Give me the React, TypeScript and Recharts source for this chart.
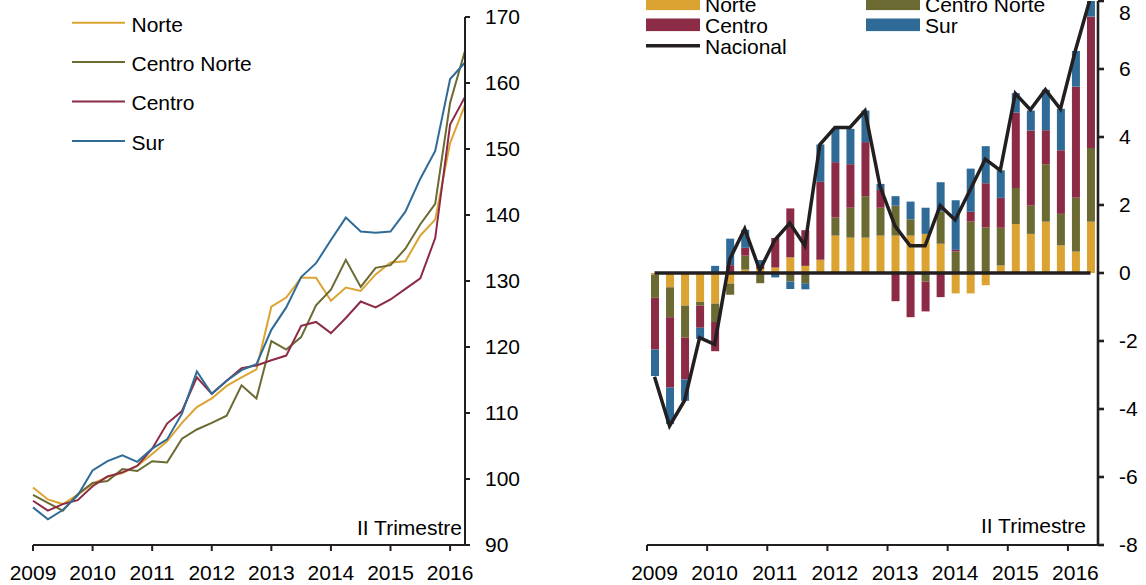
import React from 'react';
import {
  LineChart,
  Line,
  XAxis,
  YAxis,
  ComposedChart,
  Bar,
  Legend,
  ReferenceLine,
} from 'recharts';

// ---------- DATA ----------
const quarters = [
  '2009T1', '2009T2', '2009T3', '2009T4',
  '2010T1', '2010T2', '2010T3', '2010T4',
  '2011T1', '2011T2', '2011T3', '2011T4',
  '2012T1', '2012T2', '2012T3', '2012T4',
  '2013T1', '2013T2', '2013T3', '2013T4',
  '2014T1', '2014T2', '2014T3', '2014T4',
  '2015T1', '2015T2', '2015T3', '2015T4',
  '2016T1', '2016T2',
];

// Left panel: index by region
const indiceNorte = [
  98.7, 96.9, 96.2, 97.6, 99.3, 100.3, 100.9, 102.0, 103.8, 105.7,
  108.5, 110.9, 112.2, 114.1, 115.4, 116.6, 126.1, 127.5, 130.5, 130.5,
  127.0, 129.0, 128.5, 131.0, 132.8, 133.0, 136.9, 139.3, 150.9, 156.7,
];
const indiceCentroNorte = [
  97.6, 96.4, 95.2, 97.7, 99.4, 99.7, 101.5, 101.2, 102.7, 102.5,
  106.1, 107.5, 108.5, 109.6, 114.2, 112.2, 120.9, 119.6, 121.5, 126.3,
  128.7, 133.2, 129.1, 132.0, 132.4, 134.9, 138.6, 141.7, 157.0, 164.9,
];
const indiceCentro = [
  96.7, 95.2, 96.2, 96.8, 98.9, 100.4, 101.0, 102.0, 104.6, 108.4,
  110.3, 115.4, 112.9, 114.9, 116.8, 117.2, 118.0, 118.7, 123.2, 123.8,
  122.1, 124.4, 126.9, 126.0, 127.2, 128.8, 130.4, 136.5, 153.7, 157.9,
];
const indiceSur = [
  95.7, 93.9, 95.3, 97.5, 101.3, 102.7, 103.6, 102.6, 104.6, 106.0,
  109.9, 116.3, 112.9, 114.9, 116.5, 117.4, 122.6, 126.0, 130.6, 132.7,
  136.2, 139.6, 137.5, 137.3, 137.5, 140.5, 145.5, 149.7, 160.6, 163.1,
];

// Right panel: contributions to annual growth
const contribNorte = [
  -0.05, -0.42, -0.96, -0.85, -0.9, -0.31, 0.1, 0.12, 0.16, 0.46,
  0.21, 0.39, 1.1, 1.04, 1.04, 1.1, 1.1, 1.1, 1.15, 0.86,
  -0.6, -0.6, -0.36, 0.22, 1.44, 1.15, 1.51, 0.81, 0.63, 1.51,
];
const contribCentroNorte = [
  -0.68, -0.88, -0.94, -0.11, -0.54, -0.33, 0.41, -0.3, 0.0, -0.25,
  -0.3, 0.0, 0.53, 0.88, 1.22, 0.82, 0.88, 0.48, -0.25, 0.95,
  0.63, 1.51, 1.34, 1.11, 1.06, 0.83, 1.69, 0.93, 1.58, 2.17,
];
const contribCentro = [
  -1.52, -2.07, -1.23, -0.65, -0.86, 0.23, 0.23, 0.08, 0.87, 1.44,
  1.05, 2.29, 1.63, 1.28, 1.59, 0.52, -0.83, -1.3, -0.88, -0.71,
  0.05, 0.29, 1.3, 0.88, 2.22, 2.21, 1.0, 1.87, 3.27, 3.86,
];
const contribSur = [
  -0.78, -1.07, -0.63, -0.33, 0.21, 0.78, 0.53, 0.18, -0.13, -0.22,
  -0.18, 1.1, 0.98, 1.04, 0.93, 0.18, 0.28, 0.52, 0.77, 0.86,
  1.46, 1.27, 1.09, 0.81, 0.57, 0.59, 1.19, 1.22, 1.05, 0.5,
];
const nacional = [
  -3.05, -4.5, -3.75, -1.9, -2.1, 0.4, 1.3, 0.08, 0.97, 1.47,
  0.8, 3.78, 4.28, 4.28, 4.77, 2.55, 1.38, 0.8, 0.8, 1.98,
  1.56, 2.45, 3.35, 3.02, 5.28, 4.8, 5.39, 4.82, 6.55, 8.1,
];

const leftTicks = [90, 100, 110, 120, 130, 140, 150, 160, 170];
const rightTicks = [-8, -6, -4, -2, 0, 2, 4, 6, 8];
const periodNote = 'II Trimestre';

const seriesNames = {
  norte: 'Norte',
  centroNorte: 'Centro Norte',
  centro: 'Centro',
  sur: 'Sur',
  nacional: 'Nacional',
};

// ---------- STYLE ----------
const COLORS = {
  norte: '#DBA432',
  centroNorte: '#6B6A33',
  centro: '#8C2B45',
  sur: '#2F6B96',
  nacional: '#231F20',
};
const FONT = '"Liberation Sans", Arial, Helvetica, sans-serif';
const AXIS = '#231F20';
const FS = 21;

const indexData = quarters.map((q, i) => ({
  q,
  norte: indiceNorte[i],
  centroNorte: indiceCentroNorte[i],
  centro: indiceCentro[i],
  sur: indiceSur[i],
}));

const contribData = quarters.map((q, i) => ({
  q,
  norte: contribNorte[i],
  centroNorte: contribCentroNorte[i],
  centro: contribCentro[i],
  sur: contribSur[i],
  nacional: nacional[i],
}));

// Layout
const L_W = 560;
const R_LEFT = 560;
const R_W = 1146 - R_LEFT;
const R_MARGIN_LEFT = 87;
const R_YAXIS_W = 48;
const R_PLOT_W = R_W - R_MARGIN_LEFT - R_YAXIS_W;
const BAND = R_PLOT_W / quarters.length;

const yearOf = (s: string) => String(s).slice(0, 4);

function BandTick(props: any) {
  const { x, y, payload } = props;
  const lx = x - BAND / 2;
  return (
    <g>
      <line x1={lx} x2={lx} y1={y - 20} y2={y - 14} stroke={AXIS} strokeWidth={2} />
      <text
        x={x}
        y={y}
        dy="0.71em"
        textAnchor="middle"
        fontSize={FS}
        fontFamily={FONT}
        fill="#000"
      >
        {yearOf(payload.value)}
      </text>
    </g>
  );
}

const leftLegendItems = [
  { key: 'norte', name: seriesNames.norte, color: COLORS.norte },
  { key: 'centroNorte', name: seriesNames.centroNorte, color: COLORS.centroNorte },
  { key: 'centro', name: seriesNames.centro, color: COLORS.centro },
  { key: 'sur', name: seriesNames.sur, color: COLORS.sur },
];

function LeftLegend() {
  return (
    <svg width={260} height={165} style={{ display: 'block' }}>
      {leftLegendItems.map((it, i) => {
        const cy = 22.7 + i * 39.4;
        return (
          <g key={it.key}>
            <line x1={72} x2={125} y1={cy} y2={cy} stroke={it.color} strokeWidth={2} />
            <text x={131.5} y={cy + 1.4} dy="0.355em" fontSize={FS} fontFamily={FONT} fill="#000">
              {it.name}
            </text>
          </g>
        );
      })}
    </svg>
  );
}

const rightLegendItems = [
  { key: 'norte', name: seriesNames.norte, color: COLORS.norte, col: 0, row: 0, type: 'rect' },
  { key: 'centroNorte', name: seriesNames.centroNorte, color: COLORS.centroNorte, col: 1, row: 0, type: 'rect' },
  { key: 'centro', name: seriesNames.centro, color: COLORS.centro, col: 0, row: 1, type: 'rect' },
  { key: 'sur', name: seriesNames.sur, color: COLORS.sur, col: 1, row: 1, type: 'rect' },
  { key: 'nacional', name: seriesNames.nacional, color: COLORS.nacional, col: 0, row: 2, type: 'line' },
];

function RightLegend() {
  return (
    <svg width={520} height={60} style={{ display: 'block' }}>
      {rightLegendItems.map((it) => {
        const cy = 3.8 + it.row * 21;
        const x0 = it.col === 0 ? 86 : 306;
        return (
          <g key={it.key}>
            {it.type === 'rect' ? (
              <rect x={x0} y={cy - 6.3} width={54} height={12.6} fill={it.color} />
            ) : (
              <line x1={x0} x2={x0 + 54} y1={cy} y2={cy} stroke={it.color} strokeWidth={3.5} />
            )}
            <text x={x0 + 59} y={cy + 0.6} dy="0.355em" fontSize={FS} fontFamily={FONT} fill="#000">
              {it.name}
            </text>
          </g>
        );
      })}
    </svg>
  );
}

export default function App() {
  return (
    <div
      style={{
        position: 'absolute',
        left: 0,
        top: 0,
        width: 1146,
        height: 585,
        background: '#fff',
        overflow: 'hidden',
        fontFamily: FONT,
      }}
    >
      <div style={{ position: 'absolute', left: 0, top: 0 }}>
        <LineChart
          width={L_W}
          height={585}
          data={indexData}
          margin={{ top: 17, right: 35, bottom: 0, left: 33 }}
        >
          <XAxis
            dataKey="q"
            interval={3}
            height={40}
            tickSize={6}
            tickMargin={14}
            tickFormatter={yearOf}
            axisLine={{ stroke: AXIS, strokeWidth: 2 }}
            tickLine={{ stroke: AXIS, strokeWidth: 2 }}
            tick={{ fontSize: FS, fontFamily: FONT, fill: '#000' }}
          />
          <YAxis
            orientation="right"
            domain={[90, 170]}
            ticks={leftTicks}
            width={60}
            tickSize={5}
            tickMargin={15}
            axisLine={{ stroke: AXIS, strokeWidth: 2 }}
            tickLine={{ stroke: AXIS, strokeWidth: 2 }}
            tick={{ fontSize: FS, fontFamily: FONT, fill: '#000' }}
          />
          <Legend
            layout="vertical"
            align="center"
            verticalAlign="middle"
            content={<LeftLegend />}
            wrapperStyle={{ left: 0, top: 0, width: 260, height: 165 }}
          />
          <Line type="linear" dataKey="norte" name={seriesNames.norte} stroke={COLORS.norte} strokeWidth={2} dot={false} isAnimationActive={false} />
          <Line type="linear" dataKey="centroNorte" name={seriesNames.centroNorte} stroke={COLORS.centroNorte} strokeWidth={2} dot={false} isAnimationActive={false} />
          <Line type="linear" dataKey="centro" name={seriesNames.centro} stroke={COLORS.centro} strokeWidth={2} dot={false} isAnimationActive={false} />
          <Line type="linear" dataKey="sur" name={seriesNames.sur} stroke={COLORS.sur} strokeWidth={2} dot={false} isAnimationActive={false} />
        </LineChart>
      </div>

      <div style={{ position: 'absolute', left: R_LEFT, top: 0 }}>
        <ComposedChart
          width={R_W}
          height={585}
          data={contribData}
          stackOffset="sign"
          margin={{ top: 1, right: 0, bottom: 0, left: R_MARGIN_LEFT }}
        >
          <XAxis
            dataKey="q"
            interval={3}
            height={40}
            tickSize={6}
            tickMargin={14}
            tickLine={false}
            axisLine={{ stroke: AXIS, strokeWidth: 2 }}
            tick={<BandTick />}
          />
          <YAxis
            orientation="right"
            domain={[-8, 8]}
            ticks={rightTicks}
            allowDataOverflow
            width={R_YAXIS_W}
            tickSize={6}
            tickMargin={15}
            axisLine={{ stroke: AXIS, strokeWidth: 2.6 }}
            tickLine={{ stroke: AXIS, strokeWidth: 2.6 }}
            tick={{ fontSize: FS, fontFamily: FONT, fill: '#000' }}
          />
          <Legend
            layout="vertical"
            align="center"
            verticalAlign="middle"
            content={<RightLegend />}
            wrapperStyle={{ left: 0, top: 0, width: 520, height: 60 }}
          />
          <Bar dataKey="norte" name={seriesNames.norte} stackId="a" fill={COLORS.norte} barSize={8} isAnimationActive={false} />
          <Bar dataKey="centroNorte" name={seriesNames.centroNorte} stackId="a" fill={COLORS.centroNorte} barSize={8} isAnimationActive={false} />
          <Bar dataKey="centro" name={seriesNames.centro} stackId="a" fill={COLORS.centro} barSize={8} isAnimationActive={false} />
          <Bar dataKey="sur" name={seriesNames.sur} stackId="a" fill={COLORS.sur} barSize={8} isAnimationActive={false} />
          <ReferenceLine
            segment={[
              { x: quarters[0], y: 0 },
              { x: quarters[quarters.length - 1], y: 0 },
            ]}
            stroke={COLORS.nacional}
            strokeWidth={3.4}
          />
          <Line
            type="linear"
            dataKey="nacional"
            name={seriesNames.nacional}
            stroke={COLORS.nacional}
            strokeWidth={3.5}
            dot={false}
            isAnimationActive={false}
          />
        </ComposedChart>
      </div>

      <svg
        width={1146}
        height={585}
        style={{ position: 'absolute', left: 0, top: 0, pointerEvents: 'none' }}
      >
        <text x={462} y={535} textAnchor="end" fontSize={FS} fontFamily={FONT} fill="#000">
          {periodNote}
        </text>
        <text x={1086} y={533} textAnchor="end" fontSize={FS} fontFamily={FONT} fill="#000">
          {periodNote}
        </text>
      </svg>
    </div>
  );
}
